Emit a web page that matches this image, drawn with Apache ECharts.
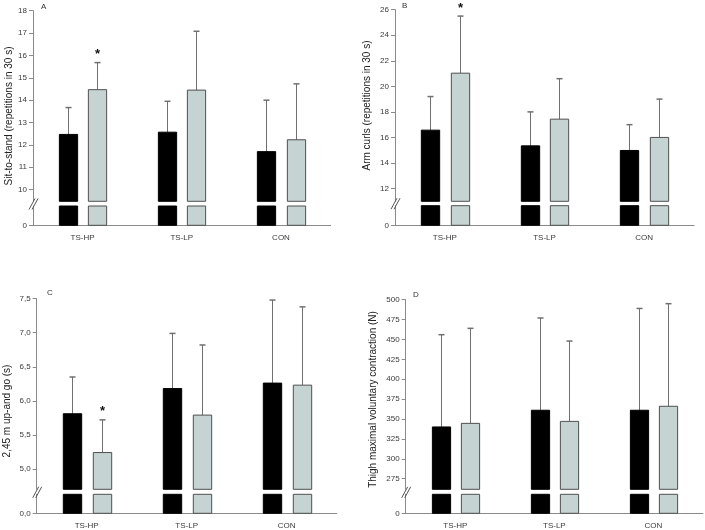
<!DOCTYPE html>
<html><head><meta charset="utf-8">
<script src="https://cdn.jsdelivr.net/npm/echarts@6/dist/echarts.min.js"></script>
<style>html,body{margin:0;padding:0;background:#fff}#c{width:705px;height:530px}</style>
</head><body><div id="c"></div>
<script>
var categories = ['TS-HP', 'TS-LP', 'CON'];

// Panel A: sit-to-stand (pre = black, post = grey); *Err = top of error bar
var preA = [12.47, 12.57, 11.70];
var preAErr = [13.67, 13.95, 14.00];
var postA = [14.47, 14.45, 12.23];
var postAErr = [15.68, 17.08, 14.73];
var sigA = [1, 0, 0];
var ticksA = [10, 11, 12, 13, 14, 15, 16, 17, 18];

// Panel B: arm curls
var preB = [16.57, 15.34, 14.98];
var preBErr = [19.2, 18.0, 17.0];
var postB = [21.03, 17.43, 16.0];
var postBErr = [25.5, 20.6, 19.0];
var sigB = [1, 0, 0];
var ticksB = [12, 14, 16, 18, 20, 22, 24, 26];

// Panel C: 2.45 m up-and-go
var preC = [5.81, 6.18, 6.26];
var preCErr = [6.35, 6.99, 7.48];
var postC = [5.24, 5.79, 6.23];
var postCErr = [5.72, 6.82, 7.38];
var sigC = [1, 0, 0];
var ticksC = [5.0, 5.5, 6.0, 6.5, 7.0, 7.5];

// Panel D: thigh maximal voluntary contraction
var preD = [340, 361, 361];
var preDErr = [456, 477, 489];
var postD = [344.5, 347, 366];
var postDErr = [464, 448, 495];
var sigD = [0, 0, 0];
var ticksD = [275, 300, 325, 350, 375, 400, 425, 450, 475, 500];

var FONT = 'Liberation Sans, Arial, Helvetica, sans-serif';
var AXIS_COL = '#8a8a8a';
var LABEL_COL = '#3a3a3a';
var ERR_COL = '#707070';
var GREY_FILL = '#c6d3d3';
var GREY_STROKE = '#4f4f4f';

var panels = [
  {letter: 'A', lx: 41, ly: 3, name: 'Sit-to-stand (repetitions in 30 s)', pre: preA, preErr: preAErr, post: postA, postErr: postAErr, sig: sigA, ticks: ticksA, zero: '0', comma: false,
   min: 9.48, max: 18, left: 33, width: 297.6, top: 10.7, upperH: 190.6, lowerTop: 206, lowerH: 19.3, nameGap: 16, namePad: [0, 20, 0, 0]},
  {letter: 'B', lx: 402, ly: 2, name: 'Arm curls (repetitions in 30 s)', pre: preB, preErr: preBErr, post: postB, postErr: postBErr, sig: sigB, ticks: ticksB, zero: '0', comma: false,
   min: 11.0, max: 26, left: 395, width: 299, top: 9.7, upperH: 191.6, lowerTop: 205.7, lowerH: 19.6, nameGap: 23, namePad: [0, 0, 0, 0]},
  {letter: 'C', lx: 47, ly: 289, name: '2,45 m up-and go (s)', pre: preC, preErr: preCErr, post: postC, postErr: postCErr, sig: sigC, ticks: ticksC, zero: '0,0', comma: true,
   min: 4.70, max: 7.5, left: 36.7, width: 300, top: 298.7, upperH: 190.6, lowerTop: 494.3, lowerH: 19, nameGap: 24, namePad: [0, 34, 0, 0]},
  {letter: 'D', lx: 413, ly: 291, name: 'Thigh maximal voluntary contraction (N)', pre: preD, preErr: preDErr, post: postD, postErr: postDErr, sig: sigD, ticks: ticksD, zero: '0', comma: false,
   min: 261.6, max: 500, left: 405.7, width: 297.3, top: 299.7, upperH: 189.6, lowerTop: 494.3, lowerH: 19, nameGap: 27, namePad: [0, 10, 0, 0]}
];

function fmt(p) {
  return function (v) { return p.comma ? v.toFixed(1).replace('.', ',') : String(v); };
}

function upperRender(p) {
  return function (params, api) {
    var ci = api.value(0);
    var band = api.size([1, 0])[0];
    var w = band * 0.184;
    var off = band * 0.148;
    var base = api.coord([ci, p.min])[1];
    var children = [];
    var sets = [
      {v: api.value(1), e: api.value(2), dx: -off, fill: '#000', stroke: '#000', star: 0},
      {v: api.value(3), e: api.value(4), dx: off, fill: GREY_FILL, stroke: GREY_STROKE, star: api.value(5)}
    ];
    sets.forEach(function (s) {
      var c = api.coord([ci, s.v]);
      var et = api.coord([ci, s.e])[1];
      var x = Math.round(c[0] + s.dx) + 0.5;
      children.push({type: 'line', shape: {x1: x, y1: c[1], x2: x, y2: et}, style: {stroke: ERR_COL, lineWidth: 1}});
      children.push({type: 'line', shape: {x1: x - 3, y1: et, x2: x + 3, y2: et}, style: {stroke: ERR_COL, lineWidth: 1.5}});
      children.push({type: 'rect', shape: {x: x - w / 2, y: c[1], width: w, height: base - c[1]},
        style: {fill: s.fill, stroke: s.stroke, lineWidth: 1}});
      if (s.star) {
        children.push({type: 'text', style: {text: '*', x: x, y: et - 8, align: 'center', verticalAlign: 'middle',
          fontSize: 13, fontWeight: 'bold', fontFamily: FONT, fill: '#111'}});
      }
    });
    return {type: 'group', children: children};
  };
}

function lowerRender(p) {
  return function (params, api) {
    var ci = api.value(0);
    var band = api.size([1, 0])[0];
    var w = band * 0.184;
    var off = band * 0.148;
    var b = api.coord([ci, 0]);
    var t = api.coord([ci, 1]);
    var children = [];
    [[-off, '#000', '#000'], [off, GREY_FILL, GREY_STROKE]].forEach(function (s) {
      var x = Math.round(b[0] + s[0]) + 0.5;
      children.push({type: 'rect', shape: {x: x - w / 2, y: t[1], width: w, height: b[1] - t[1]},
        style: {fill: s[1], stroke: s[2], lineWidth: 1}});
    });
    if (params.dataIndex === 0) {
      var cs = params.coordSys;
      var ax = cs.x, yc = cs.y - 2.5;
      children.push({type: 'line', shape: {x1: ax - 4, y1: yc + 6, x2: ax + 2, y2: yc - 5}, style: {stroke: '#555', lineWidth: 1}});
      children.push({type: 'line', shape: {x1: ax - 1, y1: yc + 6, x2: ax + 5, y2: yc - 5}, style: {stroke: '#555', lineWidth: 1}});
    }
    return {type: 'group', children: children};
  };
}

var grids = [], xAxes = [], yAxes = [], series = [], graphics = [];
panels.forEach(function (p, i) {
  var gu = 2 * i, gl = 2 * i + 1;
  grids.push({left: p.left, top: p.top, width: p.width, height: p.upperH});
  grids.push({left: p.left, top: p.lowerTop, width: p.width, height: p.lowerH});
  xAxes.push({type: 'category', gridIndex: gu, data: categories, show: false});
  xAxes.push({type: 'category', gridIndex: gl, data: categories,
    axisLine: {lineStyle: {color: AXIS_COL, width: 1}},
    axisTick: {alignWithLabel: true, length: 3, lineStyle: {color: AXIS_COL}},
    axisLabel: {fontSize: 8, color: LABEL_COL, fontFamily: FONT, margin: 8}});
  yAxes.push({type: 'value', gridIndex: gu, min: p.min, max: p.max,
    name: p.name, nameLocation: 'middle', nameRotate: 90, nameGap: p.nameGap,
    nameTextStyle: {fontSize: 10, color: '#222', fontFamily: FONT, padding: p.namePad},
    axisLine: {show: true, lineStyle: {color: AXIS_COL, width: 1}},
    axisTick: {show: true, length: 4, customValues: p.ticks, lineStyle: {color: AXIS_COL}},
    axisLabel: {fontSize: 8, color: LABEL_COL, fontFamily: FONT, margin: 6, customValues: p.ticks, formatter: fmt(p)},
    splitLine: {show: false}});
  yAxes.push({type: 'value', gridIndex: gl, min: 0, max: 1,
    axisLine: {show: true, lineStyle: {color: AXIS_COL, width: 1}},
    axisTick: {show: true, length: 4, customValues: [0], lineStyle: {color: AXIS_COL}},
    axisLabel: {fontSize: 8, color: LABEL_COL, fontFamily: FONT, margin: 6, customValues: [0], formatter: function () { return p.zero; }},
    splitLine: {show: false}});
  series.push({type: 'custom', xAxisIndex: gu, yAxisIndex: gu, renderItem: upperRender(p),
    encode: {x: 0, y: [1, 2, 3, 4]},
    data: categories.map(function (c, k) { return [k, p.pre[k], p.preErr[k], p.post[k], p.postErr[k], p.sig[k]]; }),
    silent: true, animation: false});
  series.push({type: 'custom', xAxisIndex: gl, yAxisIndex: gl, renderItem: lowerRender(p),
    encode: {x: 0},
    data: categories.map(function (c, k) { return [k]; }),
    silent: true, animation: false});
  graphics.push({type: 'text', left: p.lx, top: p.ly, style: {text: p.letter, fontSize: 8, fontFamily: FONT, fill: '#333'}});
});

var chart = echarts.init(document.getElementById('c'), null, {renderer: 'canvas'});
chart.setOption({
  animation: false,
  backgroundColor: '#fff',
  grid: grids, xAxis: xAxes, yAxis: yAxes, series: series, graphic: graphics
});
</script></body></html>
